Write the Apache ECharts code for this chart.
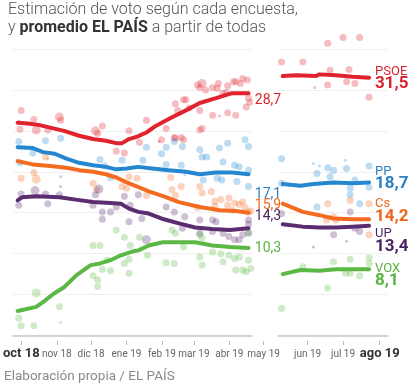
<!DOCTYPE html>
<html><head><meta charset="utf-8">
<script src="https://cdn.jsdelivr.net/npm/echarts@6/dist/echarts.min.js"></script>
<style>html,body{margin:0;padding:0;background:#fff}#c{width:414px;height:387px}</style>
</head><body><div id="c"></div>
<script>
// ---------- DATA ----------
const parties = ['PSOE', 'PP', 'Cs', 'UP', 'VOX'];

// Month ticks
const ticksL = ['2018-10-01','2018-11-01','2018-12-01','2019-01-01','2019-02-01','2019-03-01','2019-04-01','2019-05-01'];
const tickLabelsL = ['oct 18','nov 18','dic 18','ene 19','feb 19','mar 19','abr 19','may 19'];
const ticksR = ['2019-06-01','2019-07-01','2019-08-01'];
const tickLabelsR = ['jun 19','jul 19','ago 19'];

// April 28 election result (labels at end of left panel)
const resultsApr = [28.7, 17.1, 15.9, 14.3, 10.3];

// Polling averages (promedio EL PAÍS)
const psoeAvgL = [['2018-10-01',26.0],['2018-10-10',25.9],['2018-10-20',25.7],['2018-10-29',25.4],['2018-11-10',25.0],['2018-11-23',24.4],['2018-12-05',24.0],['2018-12-16',23.8],['2018-12-25',23.5],['2018-12-30',23.5],['2019-01-05',24.0],['2019-01-12',24.3],['2019-01-20',24.8],['2019-01-28',25.6],['2019-02-09',26.5],['2019-02-23',27.5],['2019-03-07',28.4],['2019-03-21',29.0],['2019-04-04',29.6],['2019-04-18',29.6]];
const ppAvgL = [['2018-10-01',23.0],['2018-10-14',22.9],['2018-10-23',22.4],['2018-11-02',22.2],['2018-11-12',21.6],['2018-11-23',21.1],['2018-12-05',20.8],['2018-12-16',20.6],['2018-12-25',20.3],['2019-01-03',20.4],['2019-01-13',20.6],['2019-01-25',20.4],['2019-02-08',20.2],['2019-02-23',20.0],['2019-03-07',19.7],['2019-03-21',19.9],['2019-04-04',19.9],['2019-04-18',19.7]];
const csAvgL = [['2018-10-01',21.3],['2018-10-14',20.9],['2018-10-29',20.7],['2018-11-12',20.5],['2018-11-23',20.2],['2018-12-05',20.0],['2018-12-16',19.7],['2018-12-25',19.3],['2019-01-03',18.7],['2019-01-12',18.2],['2019-01-22',17.6],['2019-02-04',17.0],['2019-02-17',16.3],['2019-03-07',15.7],['2019-03-24',15.3],['2019-04-07',15.2],['2019-04-18',15.0]];
const upAvgL = [['2018-10-01',16.5],['2018-10-05',16.9],['2018-10-17',17.0],['2018-11-06',16.9],['2018-11-20',16.6],['2018-12-05',16.3],['2018-12-20',16.2],['2018-12-29',16.1],['2019-01-05',15.5],['2019-01-13',15.1],['2019-01-22',14.9],['2019-02-04',14.2],['2019-02-17',13.7],['2019-03-03',13.2],['2019-03-18',13.0],['2019-04-02',12.9],['2019-04-18',13.1]];
const voxAvgL = [['2018-10-01',3.0],['2018-10-17',3.5],['2018-10-24',4.2],['2018-11-01',5.1],['2018-11-10',5.9],['2018-11-21',7.4],['2018-12-03',8.6],['2018-12-11',8.8],['2018-12-20',9.2],['2018-12-29',9.8],['2019-01-09',10.3],['2019-01-13',10.4],['2019-01-22',11.0],['2019-02-03',11.4],['2019-02-17',11.4],['2019-03-03',11.4],['2019-03-18',11.0],['2019-04-02',10.8],['2019-04-18',10.7]];

const psoeAvgR = [['2019-05-11',31.7],['2019-05-23',31.8],['2019-06-08',31.7],['2019-06-11',31.9],['2019-06-25',31.8],['2019-07-09',31.6],['2019-07-23',31.5]];
const ppAvgR = [['2019-05-11',18.5],['2019-05-26',18.3],['2019-06-06',18.5],['2019-06-23',18.7],['2019-07-09',18.6],['2019-07-23',18.7]];
const csAvgR = [['2019-05-11',16.1],['2019-05-28',15.1],['2019-06-11',14.7],['2019-06-23',14.3],['2019-07-09',14.2],['2019-07-23',14.2]];
const upAvgR = [['2019-05-11',13.6],['2019-05-28',13.3],['2019-06-11',13.2],['2019-06-25',13.2],['2019-07-09',13.3],['2019-07-23',13.4]];
const voxAvgR = [['2019-05-11',7.5],['2019-05-26',8.0],['2019-06-11',7.9],['2019-06-25',8.1],['2019-07-09',8.1],['2019-07-23',8.1]];

// Individual polls: [date, estimate, sample weight (1 small, 2 normal, 3 large)]
const psoePollsL = [['2018-10-04',27.5,2],['2018-10-03',25.2,2],['2018-10-02',26.2,1],['2018-10-15',26.4,2],['2018-10-17',25.1,3],['2018-10-27',25.1,2],['2018-11-06',26.7,3],['2018-11-07',26.3,2],['2018-12-07',25.0,3],['2018-12-09',24.7,2],['2018-12-13',25.6,2],['2018-12-25',22.5,2],['2019-01-01',22.3,2],['2019-01-05',25.0,2],['2019-01-14',23.6,2],['2019-01-20',26.3,2],['2019-01-31',23.7,1],['2019-02-02',23.9,2],['2019-02-06',25.3,2],['2019-02-13',24.2,2],['2019-02-14',24.1,2],['2019-02-19',24.2,2],['2019-02-21',23.9,2],['2019-02-14',28.3,2],['2019-02-16',27.5,2],['2019-02-21',28.8,2],['2019-02-23',28.8,2],['2019-02-26',27.8,2],['2019-03-05',30.6,2],['2019-03-07',30.3,2],['2019-03-09',30.8,3],['2019-03-12',30.0,2],['2019-03-07',27.5,2],['2019-03-09',25.3,2],['2019-03-07',25.1,2],['2019-03-18',30.3,2],['2019-03-23',30.8,2],['2019-03-22',30.2,2],['2019-03-27',29.6,2],['2019-03-30',29.7,2],['2019-03-18',26.9,2],['2019-03-24',26.8,1],['2019-03-31',27.2,2],['2019-04-07',26.9,2],['2019-03-31',30.5,2],['2019-04-05',31.0,2],['2019-04-07',31.0,2],['2019-04-11',30.8,2],['2019-04-13',31.4,2],['2019-04-17',31.2,2],['2019-04-18',29.0,2],['2019-04-19',28.5,2],['2019-04-16',27.9,2]];
const psoePollsR = [['2019-05-10',33.4,2],['2019-05-28',33.4,2],['2019-06-07',30.3,1],['2019-06-18',30.6,2],['2019-06-20',32.4,2],['2019-07-06',32.5,2],['2019-07-04',31.0,2],['2019-07-11',30.8,2],['2019-07-23',29.1,2],['2019-06-18',35.7,2],['2019-07-01',36.4,2],['2019-07-15',36.4,2]];

const ppPollsL = [['2018-10-02',23.7,2],['2018-10-03',21.1,2],['2018-10-14',22.3,2],['2018-10-25',23.8,2],['2018-11-07',24.1,2],['2018-11-07',19.4,1],['2018-11-07',17.0,1],['2018-12-11',21.5,2],['2018-12-15',20.7,2],['2018-12-20',19.3,2],['2018-12-30',21.4,2],['2019-01-17',21.4,2],['2019-01-20',23.0,2],['2019-02-02',22.2,2],['2019-02-06',23.0,2],['2019-02-06',20.9,2],['2019-02-13',23.7,2],['2019-02-20',23.1,2],['2019-02-19',20.8,2],['2019-02-22',19.6,1],['2019-03-07',22.7,2],['2019-03-09',21.8,2],['2019-03-13',21.8,2],['2019-03-10',19.0,2],['2019-03-24',22.9,2],['2019-03-31',23.5,2],['2019-04-15',23.9,2],['2019-04-18',23.1,2],['2019-03-27',21.2,2],['2019-04-06',20.8,2],['2019-04-10',20.6,2],['2019-04-18',20.2,2],['2019-03-22',19.2,2],['2019-03-26',19.0,2],['2019-04-08',18.8,2],['2019-04-18',18.2,2]];
const ppPollsR = [['2019-05-10',21.6,2],['2019-06-06',21.0,1],['2019-06-11',20.7,1],['2019-06-18',20.5,2],['2019-06-23',20.2,2],['2019-07-03',21.4,1],['2019-07-04',20.4,2],['2019-06-20',19.4,2],['2019-06-09',19.8,2],['2019-07-23',20.7,2],['2019-07-11',19.0,2],['2019-05-10',18.6,2],['2019-07-07',18.0,2],['2019-07-07',17.2,2],['2019-07-23',18.1,2],['2019-07-15',16.1,2],['2019-06-09',15.7,2]];

const csPollsL = [['2018-10-04',19.2,2],['2018-10-15',19.9,2],['2018-10-17',19.1,3],['2018-10-25',21.8,2],['2018-10-27',21.6,1],['2018-12-05',18.6,2],['2018-12-08',17.8,2],['2018-12-30',18.2,2],['2019-01-03',18.0,2],['2019-01-05',19.4,2],['2019-01-12',19.2,2],['2019-01-20',17.1,2],['2019-02-10',19.3,2],['2019-02-11',17.8,2],['2019-02-14',17.1,2],['2019-02-19',18.2,2],['2019-03-07',18.2,2],['2019-03-09',17.4,2],['2019-03-17',17.6,2],['2019-03-25',16.6,2],['2019-04-01',16.8,2],['2019-04-06',16.2,2],['2019-04-10',16.0,2],['2019-04-15',15.6,2],['2019-04-04',15.3,2],['2019-04-18',15.1,2],['2019-03-31',15.9,2],['2019-03-20',15.8,2],['2019-03-05',15.6,2],['2019-03-20',16.4,2],['2019-04-13',16.3,2],['2019-04-20',15.2,2]];
const csPollsR = [['2019-06-18',16.1,2],['2019-07-23',16.1,2],['2019-07-07',16.5,2],['2019-06-23',14.5,2],['2019-07-23',12.3,2],['2019-06-17',14.1,2],['2019-06-25',14.1,2]];

const upPollsL = [['2018-10-04',17.3,2],['2018-10-02',15.9,2],['2018-10-16',17.7,3],['2018-10-25',17.3,2],['2018-10-27',16.1,2],['2018-11-06',17.2,2],['2018-11-07',18.2,1],['2018-12-07',17.2,2],['2018-12-10',17.9,3],['2018-12-05',15.9,2],['2018-12-13',15.1,2],['2018-12-13',14.2,2],['2018-12-20',15.1,2],['2018-12-25',15.7,2],['2019-01-01',17.0,2],['2019-01-05',13.9,2],['2019-01-06',15.9,2],['2019-01-13',17.2,2],['2019-01-16',14.3,2],['2019-01-20',11.7,3],['2019-02-06',15.7,2],['2019-02-13',15.1,2],['2019-02-22',14.5,2],['2019-02-20',13.1,2],['2019-03-07',14.1,2],['2019-03-07',12.5,2],['2019-03-18',14.1,2],['2019-03-21',13.9,2],['2019-03-27',12.5,2],['2019-03-18',12.7,2],['2019-04-01',12.1,2],['2019-04-06',11.7,2],['2019-04-10',11.7,2],['2019-04-13',12.3,2],['2019-04-18',14.1,2],['2019-04-18',12.5,2],['2019-04-18',13.6,2]];
const upPollsR = [['2019-05-10',14.9,2],['2019-06-23',12.3,2],['2019-07-07',15.1,2],['2019-07-11',13.1,2],['2019-07-15',12.7,2],['2019-06-06',10.8,1],['2019-07-04',11.5,1]];

const voxPollsL = [['2018-10-02',2.1,2],['2018-10-04',1.2,2],['2018-10-15',1.2,2],['2018-10-17',5.2,3],['2018-11-06',3.5,2],['2018-11-07',1.6,1],['2018-12-05',11.0,2],['2018-12-11',11.0,2],['2018-12-05',7.3,2],['2018-12-09',6.8,2],['2018-12-09',6.0,2],['2018-12-13',8.1,2],['2018-12-17',9.2,2],['2018-12-20',7.9,2],['2018-12-25',12.9,2],['2019-01-01',12.0,2],['2019-01-01',8.8,2],['2019-01-05',9.3,2],['2019-01-05',7.6,2],['2019-01-14',12.0,2],['2019-01-06',11.0,2],['2019-01-21',9.8,2],['2019-02-06',8.9,2],['2019-02-13',8.8,2],['2019-02-11',12.9,2],['2019-02-14',12.5,2],['2019-02-21',10.8,2],['2019-03-07',12.3,2],['2019-03-09',11.9,2],['2019-03-07',9.6,2],['2019-03-09',8.6,2],['2019-03-18',10.2,2],['2019-03-25',10.0,2],['2019-03-27',9.0,2],['2019-04-01',9.8,2],['2019-04-06',9.4,2],['2019-04-07',8.0,2],['2019-04-13',8.0,2],['2019-04-16',7.8,2],['2019-04-18',9.2,2],['2019-04-18',12.6,2],['2019-04-20',8.2,2],['2019-04-10',9.6,2]];
const voxPollsR = [['2019-05-28',8.4,2],['2019-06-23',9.0,2],['2019-07-07',9.3,2],['2019-07-23',9.5,2],['2019-07-23',8.8,2],['2019-07-03',7.6,2],['2019-07-07',7.6,2],['2019-07-15',7.3,2],['2019-06-18',5.8,2],['2019-05-10',3.3,2]];

// ---------- STYLE ----------
const lineColors = {PSOE:'#e1232d', PP:'#2587d0', Cs:'#f26b21', UP:'#5b2c6f', VOX:'#5cb845'};
const labelColors = {PSOE:'#d9232d', PP:'#2a80c4', Cs:'#f0651c', UP:'#4a2660', VOX:'#58b23e'};
const endOffsets = {PSOE:1, PP:-4, Cs:-8.5, UP:15, VOX:6.5};
const resultOffsets = {PSOE:0, PP:-1, Cs:0, UP:-2, VOX:-3};
const dotSize = {1:3, 2:7, 3:9};
const FONT = 'Roboto, "Noto Sans", sans-serif';

const pollsL = {PSOE:psoePollsL, PP:ppPollsL, Cs:csPollsL, UP:upPollsL, VOX:voxPollsL};
const pollsR = {PSOE:psoePollsR, PP:ppPollsR, Cs:csPollsR, UP:upPollsR, VOX:voxPollsR};
const avgL = {PSOE:psoeAvgL, PP:ppAvgL, Cs:csAvgL, UP:upAvgL, VOX:voxAvgL};
const avgR = {PSOE:psoeAvgR, PP:ppAvgR, Cs:csAvgR, UP:upAvgR, VOX:voxAvgR};

const T = s => echarts.number.parseDate(s).getTime();
const fmt = v => v.toFixed(1).replace('.', ',');

const chart = echarts.init(document.getElementById('c'), null, {renderer:'canvas'});

const series = [];
parties.forEach(function(p){
  [[pollsL[p],0],[pollsR[p],1]].forEach(function(pair){
    series.push({
      type:'scatter', xAxisIndex:pair[1], yAxisIndex:pair[1], clip:false, z:1,
      data: pair[0],
      symbolSize: function(d){ return dotSize[d[2]]; },
      itemStyle:{color:lineColors[p], opacity:0.3},
      silent:true
    });
  });
});
parties.slice().reverse().forEach(function(p){
  const i = parties.indexOf(p);
  series.push({
    type:'line', xAxisIndex:0, yAxisIndex:0, z:3, data:avgL[p], symbol:'none',
    lineStyle:{color:lineColors[p], width:4, cap:'round', join:'round'},
    markPoint:{
      symbol:'circle', symbolSize:0, silent:true,
      data:[{coord:[T('2019-04-20'), resultsApr[i]], value:resultsApr[i]}],
      label:{show:true, position:'right', distance:4, offset:[0,resultOffsets[p]],
        formatter: function(d){ return fmt(d.value); },
        color:labelColors[p], fontSize:14, fontFamily:FONT}
    }
  });
  series.push({
    type:'line', xAxisIndex:1, yAxisIndex:1, z:3, data:avgR[p], symbol:'none',
    lineStyle:{color:lineColors[p], width:4, cap:'round', join:'round'},
    endLabel:{show:true, distance:6, offset:[0,endOffsets[p]],
      formatter: function(d){ return '{n|' + p + '}\n{v|' + fmt(d.value[1]) + '}'; },
      rich:{
        n:{fontSize:13, color:labelColors[p], fontFamily:FONT, lineHeight:11},
        v:{fontSize:17, fontWeight:'bold', color:labelColors[p], fontFamily:FONT, lineHeight:14}
      }
    }
  });
});

function labelAxis(grid, ticks, labels, min, max, boldIdx){
  const ts = ticks.map(T);
  return {
    type:'value', gridIndex:grid, min:T(min), max:T(max),
    axisLine:{show:false},
    axisTick:{show:true, length:4, customValues:ts, lineStyle:{color:'#bbbbbb', width:1}},
    axisLabel:{show:true, customValues:ts, margin:5, hideOverlap:false,
      formatter:function(v){
        let k = 0, best = Infinity;
        ts.forEach(function(t,j){ const d=Math.abs(t-v); if(d<best){best=d;k=j;} });
        return boldIdx.indexOf(k) >= 0 ? '{b|' + labels[k] + '}' : '{n|' + labels[k] + '}';
      },
      rich:{
        b:{fontSize:13, fontWeight:'bold', color:'#333', fontFamily:FONT, lineHeight:16},
        n:{fontSize:10, color:'#666', fontFamily:FONT, lineHeight:16}
      }
    },
    splitLine:{show:false}
  };
}
function dataAxis(grid, min, max){
  return {
    type:'time', gridIndex:grid, min:T(min), max:T(max),
    axisLine:{show:true, lineStyle:{color:'#c8c8c8', width:1.5}},
    axisTick:{show:false}, axisLabel:{show:false}, splitLine:{show:false}
  };
}
function valueAxis(grid){
  return {
    type:'value', gridIndex:grid, min:0, max:35, interval:5,
    axisLine:{show:false}, axisTick:{show:false}, axisLabel:{show:false},
    splitLine:{show:true, lineStyle:{color:'#f0f0f0', width:1}}
  };
}

chart.setOption({
  animation:false,
  backgroundColor:'#ffffff',
  title:[
    {left:8, top:1, padding:0,
     text:'{a|Estimación de voto según cada encuesta,}\n{a|y }{b|promedio EL PAÍS}{a| a partir de todas}',
     textStyle:{rich:{
       a:{fontSize:16, color:'#555555', fontFamily:FONT, fontWeight:300, lineHeight:18},
       b:{fontSize:16, color:'#333333', fontFamily:FONT, fontWeight:'bold', lineHeight:18}
     }}},
    {left:4, top:370, padding:0, text:'Elaboración propia / EL PAÍS',
     textStyle:{fontSize:13.5, color:'#8a8a8a', fontFamily:FONT, fontWeight:'normal'}}
  ],
  grid:[
    {left:13, top:49, width:239, height:286.5},
    {left:278, top:49, width:110, height:286.5},
    {left:13, top:300, width:257.5, height:41},
    {left:278, top:300, width:110, height:41}
  ],
  xAxis:[
    dataAxis(0, '2018-09-27', '2019-04-21'),
    dataAxis(1, '2019-05-07', '2019-08-08'),
    labelAxis(2, ticksL, tickLabelsL, '2018-09-27', '2019-05-07', [0]),
    labelAxis(3, ticksR, tickLabelsR, '2019-05-07', '2019-08-08', [2])
  ],
  yAxis:[
    valueAxis(0), valueAxis(1),
    {type:'value', gridIndex:2, show:false, min:0, max:1},
    {type:'value', gridIndex:3, show:false, min:0, max:1}
  ],
  series:series
});
</script>
</body></html>
